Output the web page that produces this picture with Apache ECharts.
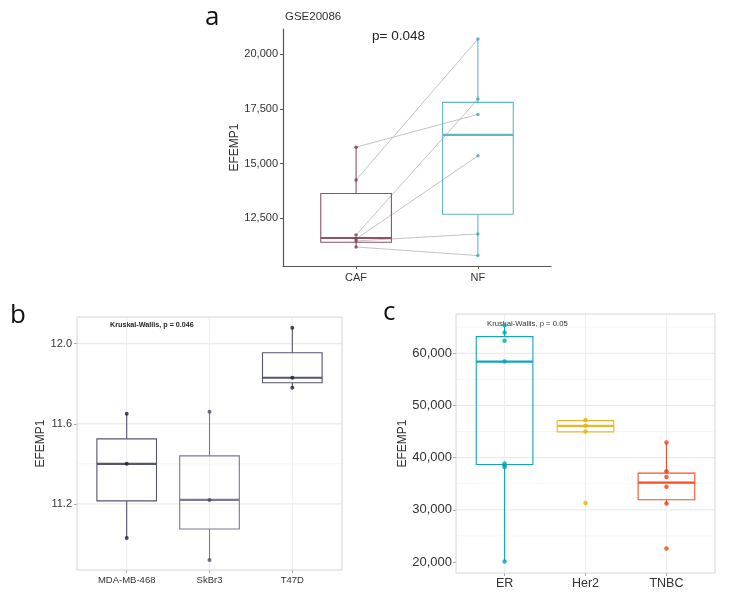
<!DOCTYPE html>
<html><head><meta charset="utf-8">
<script src="https://cdn.jsdelivr.net/npm/echarts@6/dist/echarts.min.js"></script>
<style>html,body{margin:0;padding:0;background:#fff}#c{width:738px;height:599px}</style>
</head><body><div id="c"></div>
<script>
// ---------- Panel a (GSE20086) ----------
const aCategories = ['CAF', 'NF'];
const aYTicks = [12500, 15000, 17500, 20000];
const aCAF = [15750, 14255, 11741, 11558, 11467, 11193];
const aNF  = [17244, 20686, 17943, 15352, 11787, 10800];   // paired with aCAF by index
const aBoxCAF = [11193, 11408, 11604, 13633, 15750];       // min, Q1, median, Q3, max
const aBoxNF  = [10800, 12687, 16312, 17793, 20686];

// ---------- Panel b (cell lines) ----------
const bCategories = ['MDA-MB-468', 'SkBr3', 'T47D'];
const bYTicks = [11.2, 11.6, 12.0];
const bPoints = [[11.65, 11.40, 11.03], [11.66, 11.22, 10.92], [12.08, 11.83, 11.78]];
const bBoxes = [[11.03, 11.215, 11.40, 11.525, 11.65], [10.92, 11.075, 11.22, 11.44, 11.66], [11.78, 11.805, 11.83, 11.955, 12.08]];

// ---------- Panel c (subtypes) ----------
const cCategories = ['ER', 'Her2', 'TNBC'];
const cYTicks = [20000, 30000, 40000, 50000, 60000];
const cPoints = [
  [65400, 64000, 62400, 58400, 38900, 38500, 38200, 20100],
  [47200, 46100, 45000, 31300],
  [42900, 37400, 36300, 34400, 31200, 22600]
];
const cBoxes = [[20100, 38680, 58390, 63180, 65400], [45000, 44940, 46090, 47100, 47200], [31200, 31920, 35230, 37030, 42900]];

const FONT = '"Liberation Sans", Arial, sans-serif';
const chart = echarts.init(document.getElementById('c'));

function boxSeries(xi, yi, boxes, colors, halfW, lw, z) {
  return {
    type: 'custom', xAxisIndex: xi, yAxisIndex: yi, z: z || 3, silent: true,
    data: boxes.map((b, i) => [i + 1].concat(b)),
    renderItem: function (params, api) {
      const x = api.value(0);
      const mn = api.value(1), q1 = api.value(2), md = api.value(3), q3 = api.value(4), mx = api.value(5);
      const col = colors[params.dataIndex];
      const pl = api.coord([x - halfW, q3]), pr = api.coord([x + halfW, q1]);
      const pmx = api.coord([x, mx]), pmn = api.coord([x, mn]);
      const pq3 = api.coord([x, q3]), pq1 = api.coord([x, q1]);
      const ml = api.coord([x - halfW, md]), mr = api.coord([x + halfW, md]);
      const st = {stroke: col, lineWidth: lw, fill: null};
      const children = [
        {type: 'line', shape: {x1: pmx[0], y1: pmx[1], x2: pq3[0], y2: pq3[1]}, style: st},
        {type: 'line', shape: {x1: pmn[0], y1: pmn[1], x2: pq1[0], y2: pq1[1]}, style: st},
        {type: 'rect', shape: {x: pl[0], y: pl[1], width: pr[0] - pl[0], height: pr[1] - pl[1]}, style: {stroke: col, lineWidth: lw, fill: 'rgba(255,255,255,0)'}},
        {type: 'line', shape: {x1: ml[0], y1: ml[1], x2: mr[0], y2: mr[1]}, style: {stroke: col, lineWidth: lw * 2}}
      ];
      return {type: 'group', children: children};
    }
  };
}

function pointSeries(xi, yi, pts, colors, size) {
  const data = [];
  pts.forEach((arr, i) => arr.forEach(v => data.push({value: [i + 1, v], itemStyle: {color: colors[i]}})));
  return {type: 'scatter', xAxisIndex: xi, yAxisIndex: yi, symbolSize: size, data: data, z: 5, silent: true};
}

function gridLines(xi, yi, majors, minors, xs) {
  return {
    type: 'custom', xAxisIndex: xi, yAxisIndex: yi, z: 1, silent: true,
    data: [0],
    renderItem: function (params, api) {
      const cs = params.coordSys;
      const ch = [];
      minors.forEach(v => { const p = api.coord([1, v]); ch.push({type: 'line', shape: {x1: cs.x, y1: p[1], x2: cs.x + cs.width, y2: p[1]}, style: {stroke: '#f2f2f2', lineWidth: 0.8}}); });
      majors.forEach(v => { const p = api.coord([1, v]); ch.push({type: 'line', shape: {x1: cs.x, y1: p[1], x2: cs.x + cs.width, y2: p[1]}, style: {stroke: '#e6e6e6', lineWidth: 1}}); });
      xs.forEach(v => { const p = api.coord([v, 0]); ch.push({type: 'line', shape: {x1: p[0], y1: cs.y, x2: p[0], y2: cs.y + cs.height}, style: {stroke: '#eeeeee', lineWidth: 1}}); });
      ch.push({type: 'rect', shape: {x: cs.x, y: cs.y, width: cs.width, height: cs.height}, style: {stroke: '#d6d6d6', lineWidth: 1, fill: null}});
      return {type: 'group', children: ch};
    }
  };
}

const pairData = aCAF.map((v, i) => [v, aNF[i]]);

const option = {
  animation: false,
  backgroundColor: '#fff',
  textStyle: {fontFamily: FONT},
  grid: [
    {left: 283, top: 29, width: 268, height: 237},
    {left: 77, top: 317, width: 265, height: 253},
    {left: 456, top: 314, width: 259, height: 259}
  ],
  xAxis: [
    {gridIndex: 0, type: 'value', min: 0.4, max: 2.6,
      axisLine: {show: true, lineStyle: {color: '#555', width: 1.2}},
      axisTick: {show: true, customValues: [1, 2], length: 3, lineStyle: {color: '#555'}},
      axisLabel: {customValues: [1, 2], formatter: v => aCategories[Math.round(v) - 1], color: '#333', fontSize: 11, margin: 6},
      splitLine: {show: false}},
    {gridIndex: 1, type: 'value', min: 0.4, max: 3.6,
      axisLine: {show: false},
      axisTick: {show: true, customValues: [1, 2, 3], length: 3, lineStyle: {color: '#aaa'}},
      axisLabel: {customValues: [1, 2, 3], formatter: v => bCategories[Math.round(v) - 1], color: '#333', fontSize: 9.5, margin: 5},
      splitLine: {show: false}},
    {gridIndex: 2, type: 'value', min: 0.4, max: 3.6,
      axisLine: {show: false},
      axisTick: {show: true, customValues: [1, 2, 3], length: 3, lineStyle: {color: '#aaa'}},
      axisLabel: {customValues: [1, 2, 3], formatter: v => cCategories[Math.round(v) - 1], color: '#333', fontSize: 12.5, margin: 4},
      splitLine: {show: false}}
  ],
  yAxis: [
    {gridIndex: 0, type: 'value', min: 10325, max: 21143,
      name: 'EFEMP1', nameLocation: 'middle', nameGap: 36, nameRotate: 90,
      nameTextStyle: {color: '#333', fontSize: 12, fontFamily: FONT},
      axisLine: {show: true, lineStyle: {color: '#555', width: 1.2}},
      axisTick: {show: true, customValues: aYTicks, length: 3, lineStyle: {color: '#555'}},
      axisLabel: {customValues: aYTicks, formatter: v => v.toLocaleString('en-US'), color: '#333', fontSize: 11, margin: 5},
      splitLine: {show: false}},
    {gridIndex: 1, type: 'value', min: 10.87, max: 12.1335,
      name: 'EFEMP1', nameLocation: 'middle', nameGap: 23, nameRotate: 90,
      nameTextStyle: {color: '#333', fontSize: 12, fontFamily: FONT},
      axisLine: {show: false},
      axisTick: {show: true, customValues: bYTicks, length: 3, lineStyle: {color: '#aaa'}},
      axisLabel: {customValues: bYTicks, formatter: v => v.toFixed(1), color: '#333', fontSize: 11, margin: 5},
      splitLine: {show: false}},
    {gridIndex: 2, type: 'value', min: 17895, max: 67522,
      name: 'EFEMP1', nameLocation: 'middle', nameGap: 35, nameRotate: 90,
      nameTextStyle: {color: '#333', fontSize: 12, fontFamily: FONT},
      axisLine: {show: false},
      axisTick: {show: true, customValues: cYTicks, length: 3, lineStyle: {color: '#aaa'}},
      axisLabel: {customValues: cYTicks, formatter: v => v.toLocaleString('en-US'), color: '#333', fontSize: 13, margin: 4},
      splitLine: {show: false}}
  ],
  series: [
    // panel a paired lines
    {type: 'custom', xAxisIndex: 0, yAxisIndex: 0, z: 2, silent: true, data: pairData,
      renderItem: function (params, api) {
        const p1 = api.coord([1, api.value(0)]), p2 = api.coord([2, api.value(1)]);
        return {type: 'line', shape: {x1: p1[0], y1: p1[1], x2: p2[0], y2: p2[1]}, style: {stroke: '#c4c4c4', lineWidth: 1}};
      }},
    boxSeries(0, 0, [aBoxCAF, aBoxNF], ['#8c5468', '#62b8bf'], 0.29, 1.1),
    pointSeries(0, 0, [aCAF, aNF], ['#7a3a52', '#3fa6ad'], 3.5),

    gridLines(1, 1, [11.2, 11.6, 12.0], [11.4], [1, 2, 3]),
    boxSeries(1, 1, bBoxes, ['#55556e', '#7a7a92', '#55556e'], 0.36, 1.1),
    pointSeries(1, 1, bPoints, ['#1f1f3a', '#4a4a66', '#1f1f3a'], 4),

    gridLines(2, 2, [30000, 40000, 50000, 60000], [25000, 35000, 45000, 55000, 65000], [1, 2, 3]),
    boxSeries(2, 2, cBoxes, ['#13a7b3', '#e8b630', '#f4502a'], 0.35, 1.1),
    pointSeries(2, 2, cPoints, ['#00A5B3', '#E7B000', '#F43E10'], 4.5)
  ],
  graphic: [
    {type: 'text', left: 205, top: 5, style: {text: 'a', font: '26px "Open Sans", sans-serif', fill: '#111'}},
    {type: 'text', left: 285, top: 11, style: {text: 'GSE20086', font: '11.5px ' + FONT, fill: '#333'}},
    {type: 'text', left: 372, top: 29, style: {text: 'p= 0.048', font: '13.5px ' + FONT, fill: '#222'}},
    {type: 'text', left: 10, top: 303, style: {text: 'b', font: '26px "Open Sans", sans-serif', fill: '#111'}},
    {type: 'text', left: 110, top: 322, style: {text: 'Kruskal-Wallis, p = 0.046', font: 'bold 7.2px ' + FONT, fill: '#222'}},
    {type: 'text', left: 383, top: 300, style: {text: 'c', font: '26px "Open Sans", sans-serif', fill: '#111'}},
    {type: 'text', left: 487, top: 320, style: {text: 'Kruskal-Wallis, p = 0.05', font: '7.7px ' + FONT, fill: '#333'}}
  ]
};
chart.setOption(option);
</script></body></html>
